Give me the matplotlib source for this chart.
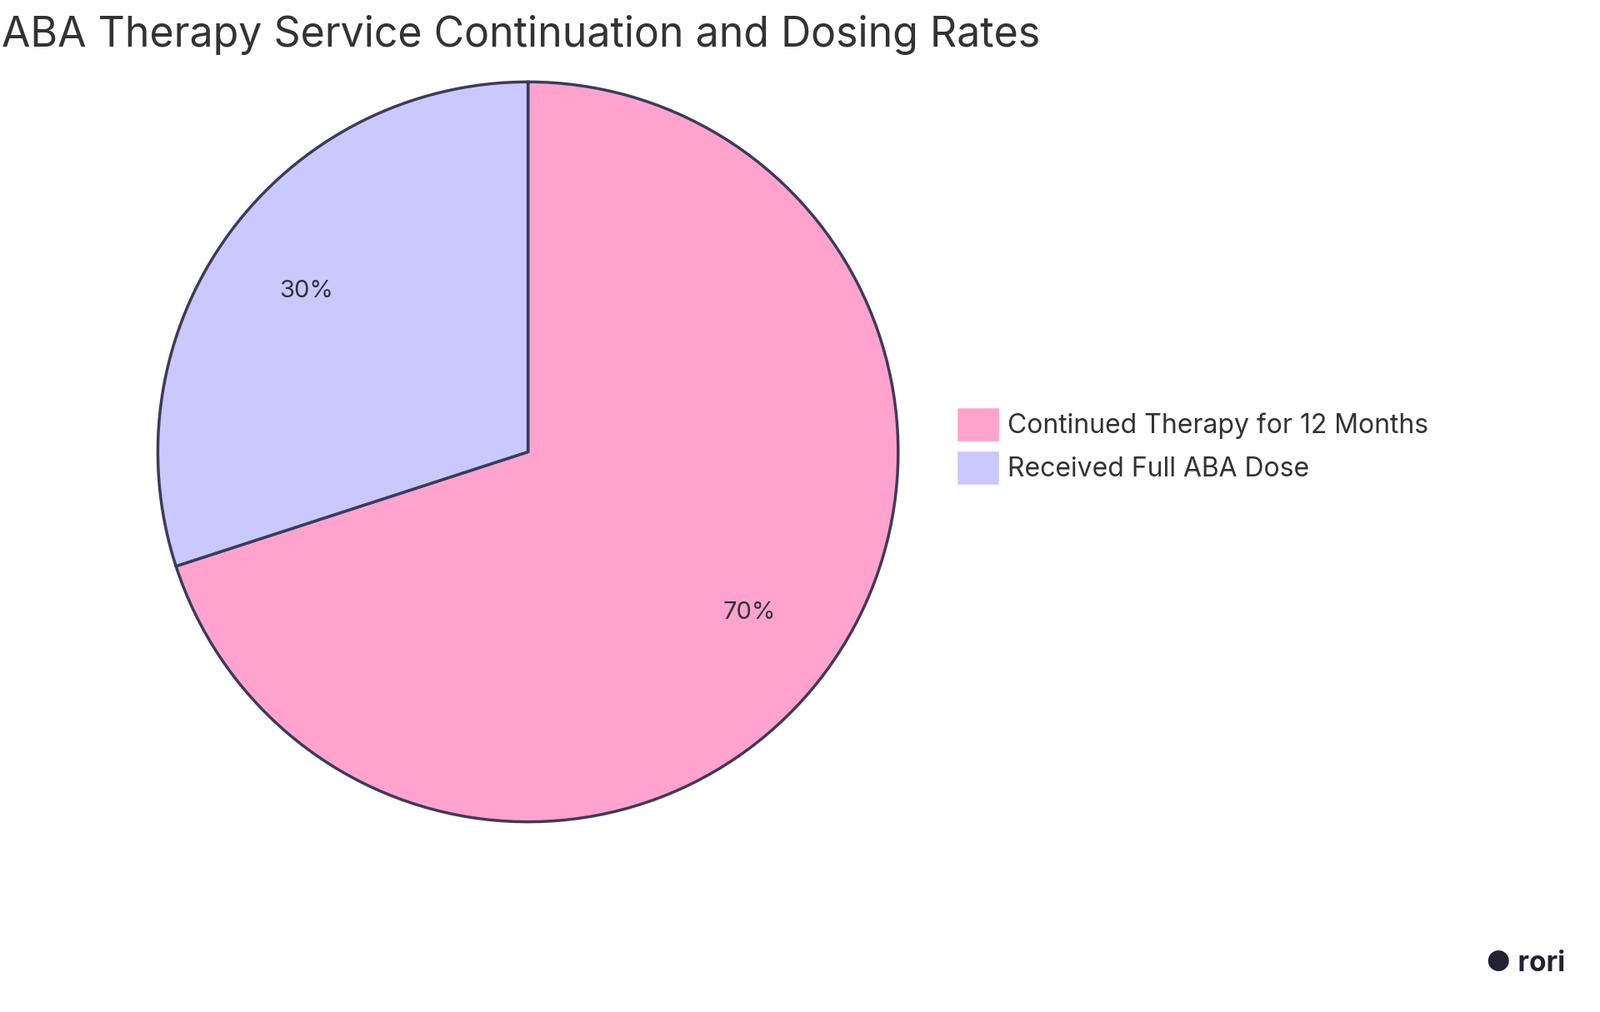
import matplotlib
matplotlib.use("Agg")
import matplotlib.pyplot as plt
from matplotlib.patches import Patch

labels = ["Continued Therapy for 12 Months", "Received Full ABA Dose"]
values = [70, 30]
colors = ["#FFA3CE", "#C9C9FF"]
edge = "#3B3B5B"
title = "ABA Therapy Service Continuation and Dosing Rates"

plt.rcParams["font.family"] = "Inter"
fig = plt.figure(figsize=(19.2, 12.15), dpi=100)
ax = fig.add_axes([0.0975, 0.186, 0.465, 0.735])
ax.pie(values, colors=colors, startangle=90, counterclock=False,
       autopct="%d%%", pctdistance=0.74,
       wedgeprops=dict(edgecolor=edge, linewidth=2.5),
       textprops=dict(fontsize=21, color="#333333"))
ax.set_xlim(-1.005, 1.005)
ax.set_ylim(-1.005, 1.005)
ax.set_aspect("equal")
fig.text(0.001, 0.985, title, fontsize=36, color="#333333", va="top", ha="left")
handles = [Patch(facecolor=c, edgecolor="white") for c in colors]
fig.legend(handles, labels, loc="center left", bbox_to_anchor=(0.583, 0.559),
           frameon=False, fontsize=23, handlelength=1.6, handleheight=1.6,
           labelcolor="#333333", handletextpad=0.3, labelspacing=0.35)
fig.text(0.978, 0.04, "● rori", fontsize=24, fontweight="bold", color="#222233", ha="right")
fig.savefig("out.png", dpi=100, facecolor="white")
